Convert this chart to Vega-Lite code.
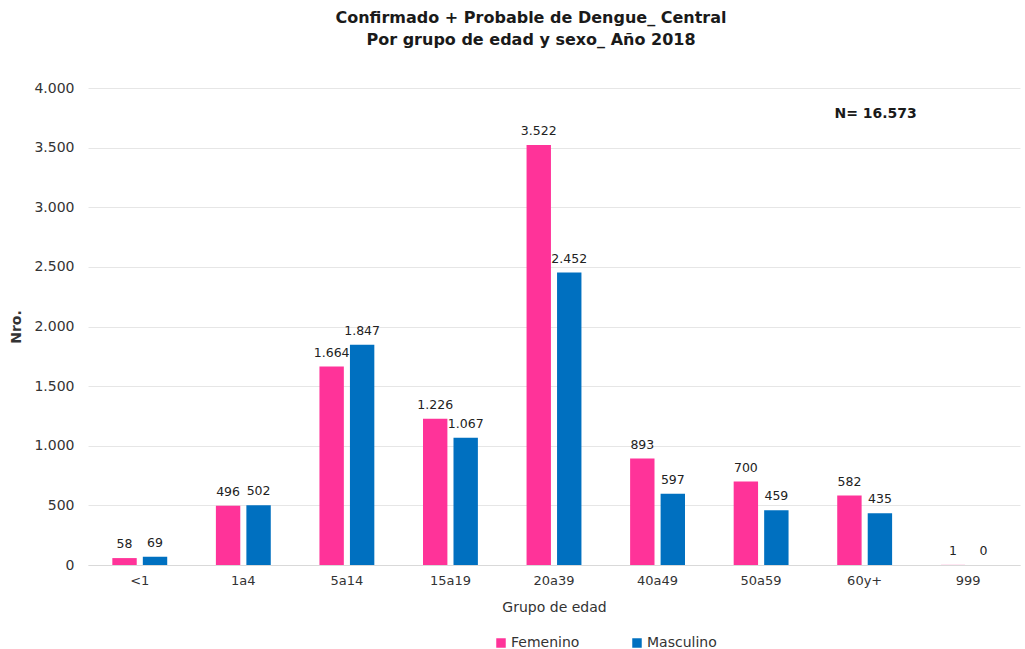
{
  "$schema": "https://vega.github.io/schema/vega-lite/v6.json",
  "autosize": "none",
  "width": 932,
  "height": 477,
  "padding": {"left": 88, "top": 88, "right": 5, "bottom": 84},
  "background": "white",
  "config": {
    "locale": {"number": {"decimal": ",", "thousands": ".", "grouping": [3], "currency": ["", ""]}},
    "font": "DejaVu Sans",
    "view": {"stroke": null}
  },
  "title": {
    "text": ["Confirmado + Probable de Dengue_ Central", "Por grupo de edad y sexo_ Año 2018"],
    "font": "DejaVu Sans",
    "fontSize": 16,
    "fontWeight": "bold",
    "color": "#1a1a1a",
    "anchor": "middle",
    "dx": -23,
    "offset": 33,
    "lineHeight": 22
  },
  "data": {
    "values": [
      {"grupo": "<1", "sexo": "Femenino", "n": 58},
      {"grupo": "<1", "sexo": "Masculino", "n": 69},
      {"grupo": "1a4", "sexo": "Femenino", "n": 496},
      {"grupo": "1a4", "sexo": "Masculino", "n": 502},
      {"grupo": "5a14", "sexo": "Femenino", "n": 1664},
      {"grupo": "5a14", "sexo": "Masculino", "n": 1847},
      {"grupo": "15a19", "sexo": "Femenino", "n": 1226},
      {"grupo": "15a19", "sexo": "Masculino", "n": 1067},
      {"grupo": "20a39", "sexo": "Femenino", "n": 3522},
      {"grupo": "20a39", "sexo": "Masculino", "n": 2452},
      {"grupo": "40a49", "sexo": "Femenino", "n": 893},
      {"grupo": "40a49", "sexo": "Masculino", "n": 597},
      {"grupo": "50a59", "sexo": "Femenino", "n": 700},
      {"grupo": "50a59", "sexo": "Masculino", "n": 459},
      {"grupo": "60y+", "sexo": "Femenino", "n": 582},
      {"grupo": "60y+", "sexo": "Masculino", "n": 435},
      {"grupo": "999", "sexo": "Femenino", "n": 1},
      {"grupo": "999", "sexo": "Masculino", "n": 0}
    ]
  },
  "encoding": {
    "x": {
      "field": "grupo",
      "type": "nominal",
      "sort": null,
      "scale": {"paddingInner": 0.47, "paddingOuter": 0.235},
      "axis": {
        "title": "Grupo de edad",
        "labelAngle": 0,
        "labelFontSize": 13,
        "labelColor": "#333333",
        "labelPadding": 9,
        "titleFontSize": 14,
        "titleFontWeight": "normal",
        "titleColor": "#333333",
        "titlePadding": 13,
        "ticks": false,
        "domainColor": "#d9d9d9",
        "grid": false
      }
    },
    "xOffset": {"field": "sexo", "type": "nominal", "scale": {"paddingInner": 0.2}},
    "y": {
      "field": "n",
      "type": "quantitative",
      "scale": {"domain": [0, 4000]},
      "axis": {
        "title": "Nro.",
        "format": ",d",
        "values": [0, 500, 1000, 1500, 2000, 2500, 3000, 3500, 4000],
        "labelFontSize": 14,
        "labelColor": "#333333",
        "labelPadding": 14,
        "titleFontSize": 14,
        "titleFontWeight": "bold",
        "titleColor": "#333333",
        "titlePadding": 10,
        "ticks": false,
        "domain": false,
        "gridColor": "#e6e6e6"
      }
    }
  },
  "layer": [
    {
      "mark": {"type": "bar"},
      "encoding": {
        "color": {
          "field": "sexo",
          "type": "nominal",
          "scale": {"domain": ["Femenino", "Masculino"], "range": ["#FF3399", "#0070C0"]},
          "legend": {
            "title": null,
            "orient": "none",
            "direction": "horizontal",
            "legendX": 406,
            "legendY": 548,
            "symbolType": "square",
            "symbolSize": 90,
            "symbolStrokeWidth": 0,
            "labelFontSize": 14,
            "labelColor": "#333333",
            "columnPadding": 50,
            "labelOffset": 3
          }
        }
      }
    },
    {
      "mark": {"type": "text", "dy": -7, "fontSize": 12.5, "color": "#222222", "baseline": "bottom"},
      "encoding": {
        "text": {"field": "n", "type": "quantitative", "format": ",d"}
      }
    },
    {
      "data": {"values": [{"label": "N= 16.573", "grupo": "60y+", "n": 3780}]},
      "mark": {"type": "text", "fontSize": 14, "fontWeight": "bold", "color": "#1a1a1a", "dx": 11},
      "encoding": {
        "text": {"field": "label"},
        "xOffset": null
      }
    }
  ]
}
